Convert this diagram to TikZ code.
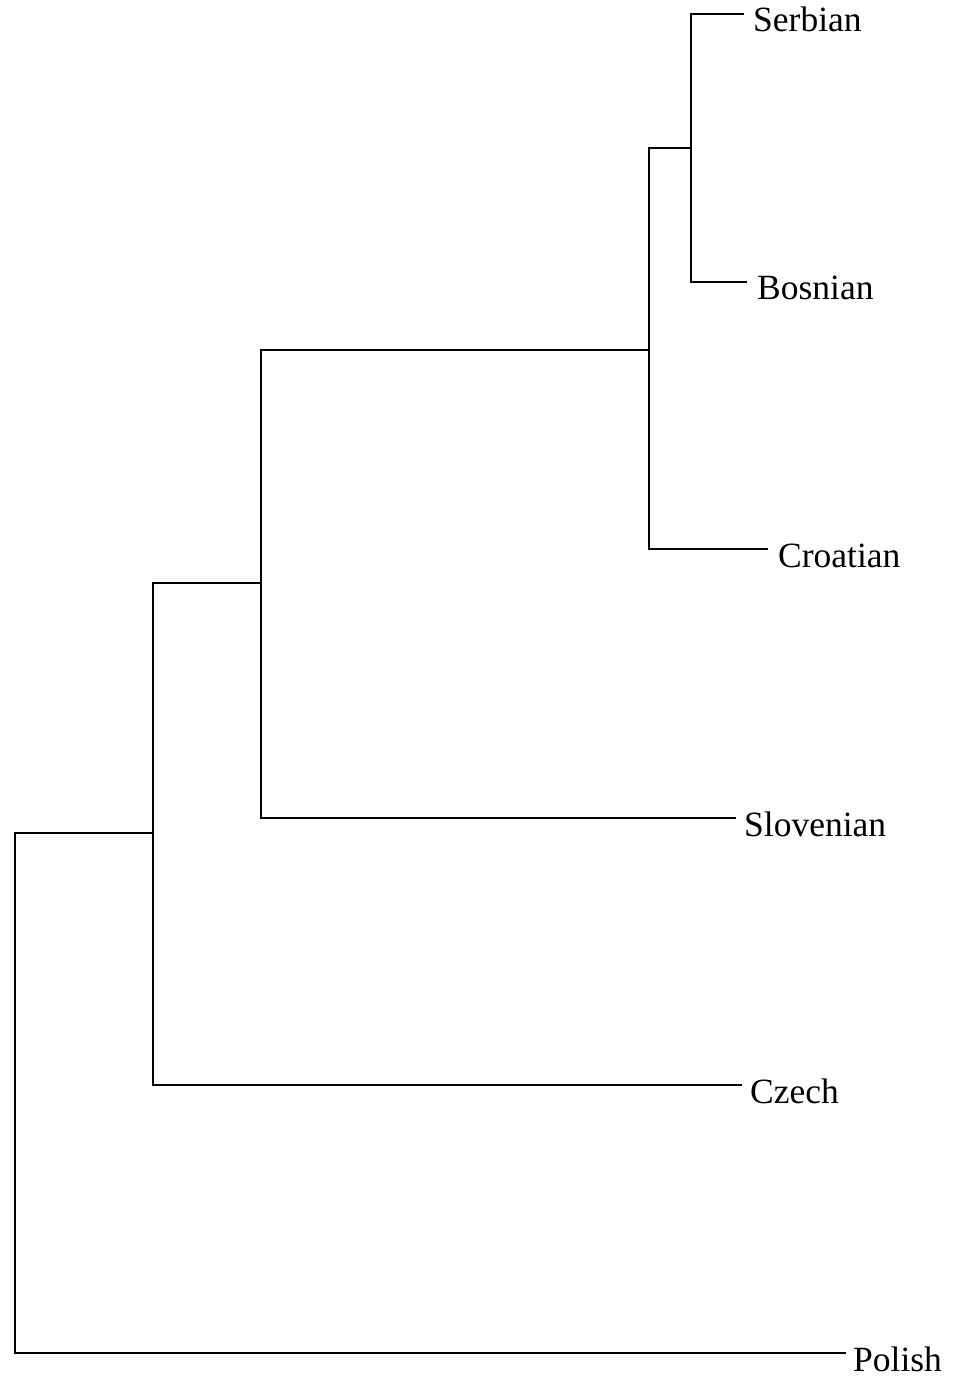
\documentclass[tikz,border=0pt]{standalone}
\usepackage{fontspec}
\setmainfont{Liberation Serif}
\begin{document}
\begin{tikzpicture}[x=1pt,y=-1pt,
  branch/.style={draw=black,line width=1.8pt,line join=miter},
  leaflabel/.style={anchor=base west,inner sep=0pt,font=\fontsize{35.5}{40}\selectfont}]
\useasboundingbox (0,0) rectangle (954,1380);

% leaf tips
\coordinate (tSerbian)   at (744,14);
\coordinate (tBosnian)   at (747,282);
\coordinate (tCroatian)  at (768,549);
\coordinate (tSlovenian) at (736,818);
\coordinate (tCzech)     at (742,1085);
\coordinate (tPolish)    at (846,1353);

% internal joins
\coordinate (jA) at (691,148);
\coordinate (jB) at (649,350);
\coordinate (jC) at (261,583);
\coordinate (jD) at (153,833);
\coordinate (jR) at (15,1093);

% labels
\node[leaflabel] (lSerbian)   at (753,32)   {Serbian};
\node[leaflabel] (lBosnian)   at (757,299)  {Bosnian};
\node[leaflabel] (lCroatian)  at (778,567)  {Croatian};
\node[leaflabel] (lSlovenian) at (744,836)  {Slovenian};
\node[leaflabel] (lCzech)     at (750,1103) {Czech};
\node[leaflabel] (lPolish)    at (853,1371) {Polish};

% branches
\path[branch] (tSerbian) -| (jA) |- (tBosnian);
\path[branch] (jA) -| (jB) |- (tCroatian);
\path[branch] (jB) -| (jC) |- (tSlovenian);
\path[branch] (jC) -| (jD) |- (tCzech);
\path[branch] (jD) -| (jR) |- (tPolish);
\end{tikzpicture}
\end{document}
